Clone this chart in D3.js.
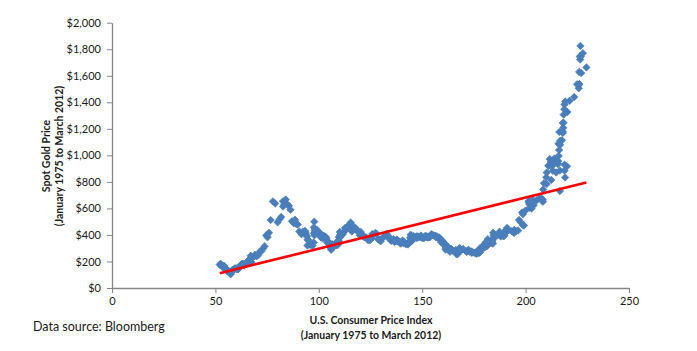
<!DOCTYPE html>
<html>
<head>
<meta charset="utf-8">
<script src="https://cdn.jsdelivr.net/npm/d3@7/dist/d3.min.js"></script>
<style>
  html, body { margin: 0; padding: 0; background: #ffffff; }
  svg { display: block; font-family: Lato, "Open Sans", sans-serif; }
</style>
</head>
<body>
<svg id="chart" width="697" height="351"></svg>
<script>
// U.S. CPI (monthly, Jan 1975 - Mar 2012)
const cpi = [
  52.1,52.5,52.7,52.9,53.2,53.6,54.2,54.3,54.6,54.9,55.3,55.5,
  55.6,55.8,55.9,56.1,56.5,56.8,57.1,57.4,57.6,57.9,58.0,58.2,
  58.5,59.1,59.5,60.0,60.3,60.7,61.0,61.2,61.4,61.6,61.9,62.1,
  62.5,62.9,63.4,63.9,64.5,65.2,65.7,66.0,66.5,67.1,67.4,67.7,
  68.3,69.1,69.8,70.6,71.5,72.3,73.1,73.8,74.6,75.2,75.9,76.7,
  77.8,78.9,80.1,81.0,81.8,82.7,82.7,83.3,84.0,84.8,85.5,86.3,
  87.0,87.9,88.5,89.1,89.8,90.6,91.6,92.3,93.2,93.4,93.7,94.0,
  94.3,94.6,94.5,94.9,95.8,97.0,97.5,97.7,97.9,98.2,98.0,97.6,
  97.8,97.9,97.9,98.6,99.2,99.5,99.9,100.2,100.7,101.0,101.2,101.3,
  101.9,102.4,102.6,103.1,103.4,103.7,104.1,104.5,105.0,105.3,105.3,105.3,
  105.5,106.0,106.4,106.9,107.3,107.6,107.8,108.0,108.3,108.7,109.0,109.3,
  109.6,109.3,108.8,108.6,108.9,109.5,109.5,109.7,110.2,110.3,110.4,110.5,
  111.2,111.6,112.1,112.7,113.1,113.5,113.8,114.4,115.0,115.3,115.4,115.4,
  115.7,116.0,116.5,117.1,117.5,118.0,118.5,119.0,119.8,120.2,120.3,120.5,
  121.1,121.6,122.3,123.1,123.8,124.1,124.4,124.6,125.0,125.6,125.9,126.1,
  127.4,128.0,128.7,128.9,129.2,129.9,130.4,131.6,132.7,133.5,133.8,133.8,
  134.6,134.8,135.0,135.2,135.6,136.0,136.2,136.6,137.2,137.4,137.8,137.9,
  138.1,138.6,139.3,139.5,139.7,140.2,140.5,140.9,141.3,141.8,142.0,141.9,
  142.6,143.1,143.6,144.0,144.2,144.4,144.4,144.8,145.1,145.7,145.8,145.8,
  146.2,146.7,147.2,147.4,147.5,148.0,148.4,149.0,149.4,149.5,149.7,149.7,
  150.3,150.9,151.4,151.9,152.2,152.5,152.5,152.9,153.2,153.7,153.6,153.5,
  154.4,154.9,155.7,156.3,156.6,156.7,157.0,157.3,157.8,158.3,158.6,158.6,
  159.1,159.6,160.0,160.2,160.1,160.3,160.5,160.8,161.2,161.6,161.5,161.3,
  161.6,161.9,162.2,162.5,162.8,163.0,163.2,163.4,163.6,164.0,164.0,163.9,
  164.3,164.5,165.0,166.2,166.2,166.2,166.7,167.1,167.9,168.2,168.3,168.3,
  168.8,169.8,171.2,171.3,171.5,172.4,172.8,172.8,173.7,174.0,174.1,174.0,
  175.1,175.8,176.2,176.9,177.7,178.0,177.5,177.5,178.3,177.7,177.4,176.7,
  177.1,177.8,178.8,179.8,179.8,179.9,180.1,180.7,181.0,181.3,181.3,180.9,
  181.7,183.1,184.2,183.8,183.5,183.7,183.9,184.6,185.2,185.0,184.5,184.3,
  185.2,186.2,187.4,188.0,189.1,189.7,189.4,189.5,189.9,190.9,191.0,190.3,
  190.7,191.8,193.3,194.6,194.4,194.5,195.4,196.4,198.8,199.2,197.6,196.8,
  198.3,198.7,199.8,201.5,202.5,202.9,203.5,203.9,202.9,201.8,201.5,201.8,
  202.4,203.5,205.4,206.7,207.9,208.4,208.3,207.9,208.5,208.9,210.2,210.0,
  211.1,211.7,213.5,214.8,216.6,218.8,220.0,219.1,218.8,216.6,212.4,210.2,
  211.1,212.2,212.7,213.2,213.9,215.7,215.4,215.8,216.0,216.2,216.3,215.9,
  216.7,216.7,217.6,218.0,218.2,218.0,218.0,218.3,218.4,218.7,218.8,219.2,
  220.2,221.3,223.5,224.9,226.0,225.7,225.9,226.5,226.9,226.4,226.2,225.7,
  226.7,227.7,229.4
];

// Spot gold price (US$, month-end, Jan 1975 - Mar 2012)
const gold = [
  176,182,177,167,167,166,167,160,141,143,138,140,
  128,132,129,128,126,124,113,104,116,123,130,135,
  132,143,149,147,143,143,144,146,154,162,161,165,
  176,182,182,171,184,183,200,209,217,243,194,226,
  234,251,240,245,275,278,297,315,397,382,416,512,
  653,637,495,518,536,654,614,631,667,629,620,590,
  503,489,514,483,479,426,406,426,429,427,415,398,
  387,363,320,361,325,318,343,412,397,423,436,457,
  500,409,415,429,438,416,422,414,405,382,405,382,
  374,394,389,376,384,373,342,348,344,334,329,309,
  307,288,330,321,314,318,327,333,326,325,325,327,
  351,338,344,346,343,346,358,385,423,401,384,391,
  406,406,422,453,451,447,463,453,460,467,493,487,
  458,426,457,449,456,437,437,428,398,412,423,410,
  394,387,383,378,361,373,368,360,367,375,408,399,
  415,408,369,368,363,352,372,388,408,380,385,386,
  366,363,356,358,360,368,363,347,355,358,366,353,
  354,353,342,336,338,343,358,340,349,339,334,333,
  331,328,338,354,378,379,402,372,356,370,371,392,
  378,382,389,377,388,388,384,386,395,389,383,383,
  375,376,392,390,384,387,383,382,384,383,388,387,
  406,401,396,393,392,382,385,387,379,380,371,369,
  346,359,348,340,346,335,326,325,332,311,297,290,
  305,297,301,311,294,296,289,273,294,292,295,288,
  287,287,280,287,269,261,256,255,299,299,291,290,
  283,294,277,275,272,288,277,277,274,265,269,275,
  265,267,258,263,268,271,266,273,293,279,276,277,
  282,297,301,308,327,319,305,313,324,317,318,347,
  368,348,335,337,361,346,355,376,388,386,398,416,
  400,396,424,389,393,396,391,407,416,426,453,436,
  422,436,428,436,415,437,429,433,473,471,496,513,
  569,556,582,655,653,614,633,624,599,604,647,632,
  651,664,662,677,659,651,666,672,743,790,784,834,
  923,972,934,871,886,930,918,833,885,731,815,870,
  920,952,917,883,976,935,939,956,996,1040,1176,1088,
  1079,1110,1113,1179,1208,1244,1169,1246,1307,1347,1384,1406,
  1327,1411,1439,1536,1537,1506,1629,1825,1620,1722,1746,1531,
  1744,1770,1663
];

// Linear trendline endpoints
const trendCpi = [52.1, 229.4];
const trendGold = [112, 795];

const xTicks = [0, 50, 100, 150, 200, 250];
const yTicks = [0, 200, 400, 600, 800, 1000, 1200, 1400, 1600, 1800, 2000];

const xTitle = ["U.S. Consumer Price Index", "(January 1975 to March 2012)"];
const yTitle = ["Spot Gold Price", "(January 1975 to March 2012)"];
const sourceNote = "Data source: Bloomberg";

const svg = d3.select("#chart");
const plot = { left: 112, right: 629, top: 22.7, bottom: 288 };

const x = d3.scaleLinear().domain([0, 250]).range([plot.left, plot.right]);
const y = d3.scaleLinear().domain([0, 2000]).range([plot.bottom, plot.top]);

const axisColor = "#868686";
const textColor = "#1a1a1a";

// Y axis
const yAxis = svg.append("g")
  .attr("transform", `translate(${plot.left},0)`)
  .call(d3.axisLeft(y).tickValues(yTicks).tickSize(5).tickSizeOuter(0).tickPadding(6)
    .tickFormat(d => "$" + d3.format(",")(d)));

// X axis
const xAxis = svg.append("g")
  .attr("transform", `translate(0,${plot.bottom})`)
  .call(d3.axisBottom(x).tickValues(xTicks).tickSize(5).tickSizeOuter(0).tickPadding(4));

[yAxis, xAxis].forEach(g => {
  g.select(".domain").attr("stroke", axisColor).attr("stroke-width", 1.3);
  g.selectAll(".tick line").attr("stroke", axisColor).attr("stroke-width", 1);
  g.selectAll(".tick text")
    .attr("fill", textColor)
    .style("font-family", "Lato, sans-serif")
    .style("font-size", "11px");
});

// Points (diamonds)
const diamond = d3.symbol().type(d3.symbolSquare).size(28);
const pts = cpi.map((c, i) => ({ c, g: gold[i] }));
svg.append("g")
  .selectAll("path")
  .data(pts)
  .join("path")
  .attr("d", diamond)
  .attr("transform", d => `translate(${x(d.c)},${y(d.g)}) rotate(45)`)
  .attr("fill", "#4a7ebb")
  .attr("stroke", "#4a7ebb")
  .attr("stroke-width", 0.6);

// Trendline
svg.append("line")
  .attr("x1", x(trendCpi[0])).attr("y1", y(trendGold[0]))
  .attr("x2", x(trendCpi[1])).attr("y2", y(trendGold[1]))
  .attr("stroke", "#ff0000")
  .attr("stroke-width", 2.6);

// Y title
const yt = svg.append("text")
  .attr("transform", "translate(50,156) rotate(-90)")
  .attr("text-anchor", "middle")
  .attr("fill", textColor)
  .style("font-weight", "bold")
  .style("font-size", "10.5px");
yt.append("tspan").attr("x", 0).attr("dy", 0).text(yTitle[0]);
yt.append("tspan").attr("x", 0).attr("dy", 13).text(yTitle[1]);

// X title
const xt = svg.append("text")
  .attr("text-anchor", "middle")
  .attr("fill", textColor)
  .style("font-weight", "bold")
  .style("font-size", "10.5px");
xt.append("tspan").attr("x", 371).attr("y", 324).text(xTitle[0]);
xt.append("tspan").attr("x", 371).attr("y", 339).text(xTitle[1]);

// Source note
svg.append("text")
  .attr("x", 33).attr("y", 331)
  .attr("fill", textColor)
  .style("font-size", "12.5px")
  .text(sourceNote);
</script>
</body>
</html>
